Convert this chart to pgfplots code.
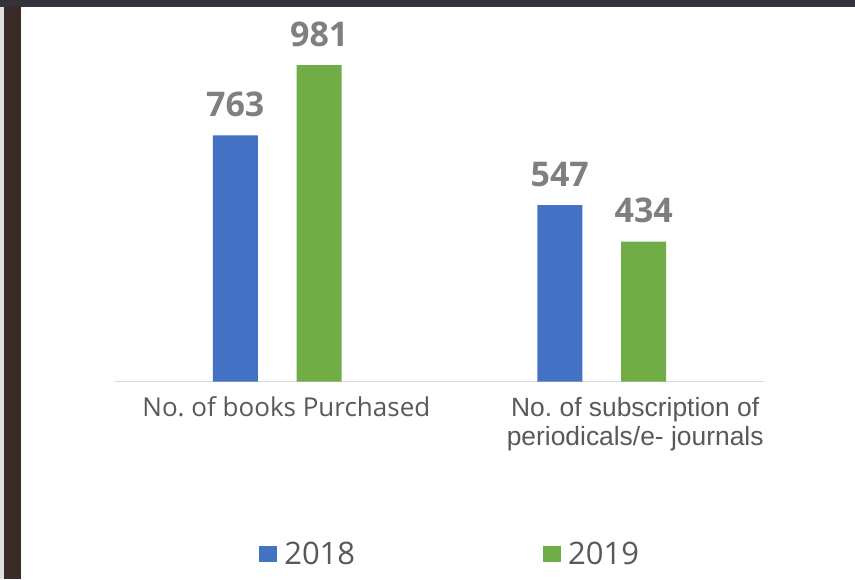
\documentclass[border=0pt]{standalone}
\usepackage{fontspec}
\setmainfont{Open Sans}
\newfontfamily\arial{Liberation Sans}
\usepackage{pgfplots}
\pgfplotsset{compat=1.18}
\frenchspacing

\definecolor{barblue}{HTML}{4472C4}
\definecolor{bargreen}{HTML}{70AD47}
\definecolor{labgray}{HTML}{7F7F7F}
\definecolor{txtgray}{HTML}{595959}
\definecolor{axgray}{HTML}{D9D9D9}
\definecolor{darkleft}{HTML}{3B2B27}
\definecolor{darktop}{HTML}{35333A}

\begin{document}
\begin{tikzpicture}
% frame of the screenshot, 1pt = 1px
\useasboundingbox (0pt,0pt) rectangle (855pt,579pt);
\fill[white] (0pt,0pt) rectangle (855pt,579pt);
\fill[darkleft] (0pt,0pt) rectangle (21pt,579pt);
\fill[black!12] (0pt,0pt) rectangle (4pt,572pt);
\fill[darktop] (0pt,572pt) rectangle (855pt,579pt);

\begin{axis}[
    at={(115pt,197.5pt)}, anchor=south west,
    scale only axis,
    width=649pt, height=354.75pt,
    xmin=-0.5, xmax=1.5,
    ymin=0, ymax=1100,
    axis x line*=bottom,
    axis y line=none,
    x axis line style={draw=axgray, line width=1.2pt},
    xtick={0.028,1.103},
    xticklabels={{No. of books Purchased},{\arial\fontsize{26.4}{29}\selectfont No. of subscription of\\\arial\fontsize{26.4}{29}\selectfont periodicals/e- journals}},
    major tick length=0pt,
    xticklabel style={font=\fontsize{26}{29}\selectfont, text=txtgray, align=center, anchor=north, yshift=-12pt},
    ybar=0pt,
    bar width=0.1387,
    /pgf/number format/assume math mode=true,
    nodes near coords,
    every node near coord/.append style={font=\fontsize{34}{40}\bfseries, text=labgray, anchor=base, yshift=19pt},
    legend style={
        at={(axis description cs:0.222,-0.485)}, anchor=west,
        draw=none, fill=none, inner sep=0pt,
        font=\fontsize{31}{36}\selectfont, text=txtgray,
        legend columns=2,
        /tikz/every odd column/.append style={column sep=5pt},
        /tikz/every even column/.append style={column sep=186pt},
    },
    legend image code/.code={\fill[#1] (0pt,-8pt) rectangle (18pt,8pt);},
]
\addplot[fill=barblue, draw=none, bar shift=-0.1294] coordinates {(0,763) (1,547)};
\addlegendentry{2018}
\addplot[fill=bargreen, draw=none, bar shift=0.1294] coordinates {(0,981) (1,434)};
\addlegendentry{2019}
\end{axis}
\end{tikzpicture}
\end{document}
